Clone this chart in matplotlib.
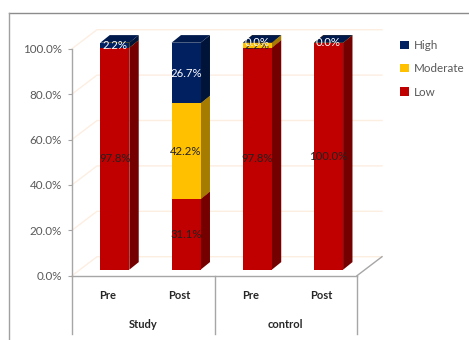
import matplotlib
matplotlib.use('Agg')
import matplotlib.pyplot as plt
from matplotlib.lines import Line2D
from matplotlib.patches import Patch, Polygon
from matplotlib.transforms import Affine2D

plt.rcParams['font.family'] = ['Lato', 'DejaVu Sans']

categories = ['Pre', 'Post', 'Pre', 'Post']
groups = ['Study', 'control']
low = [97.8, 31.1, 97.8, 100.0]
moderate = [0.0, 42.2, 2.2, 0.0]
high = [2.2, 26.7, 0.0, 0.0]
yticks = [0, 20, 40, 60, 80, 100]

W, H = 469, 340
fig = plt.figure(figsize=(W / 100, H / 100), dpi=100)

# plot box in pixels
left, right, top, bottom = 72, 357, 48.7, 275.7
ax = fig.add_axes([left / W, 1 - bottom / H, (right - left) / W, (bottom - top) / H])
ax.set_xlim(-0.5, 3.5)
ax.set_ylim(0, 100)
ax.patch.set_visible(False)

px_x = (right - left) / 4
px_y = (bottom - top) / 100

# depth of the back wall and of the bars, in pixels
wall_dx, wall_dy = 25 / px_x, 19 / px_y
bar_dx, bar_dy = 9.4 / px_x, 7.6 / px_y
shift_x, shift_y = 7.2 / px_x, 6 / px_y
width = 29 / px_x

GRID = '#fdeee2'
AXIS = '#a6a6a6'

# back wall and left wall grid lines
for t in yticks:
    ax.plot([-0.5, -0.5 + wall_dx, 3.5 + wall_dx], [t, t + wall_dy, t + wall_dy],
            color=GRID, lw=1, clip_on=False, zorder=1)
ax.plot([3.5, 3.5 + wall_dx], [0, wall_dy], color=AXIS, lw=1, clip_on=False, zorder=1.5)


def draw_segment(x, y0, h, front, side, topc):
    x0 = x - width / 2 + shift_x
    x1 = x0 + width
    b = y0 + shift_y
    t = b + h
    ax.add_patch(Polygon([(x1, b), (x1 + bar_dx, b + bar_dy), (x1 + bar_dx, t + bar_dy), (x1, t)],
                         fc=side, ec='none', clip_on=False, zorder=3))
    ax.add_patch(Polygon([(x0, t), (x0 + bar_dx, t + bar_dy), (x1 + bar_dx, t + bar_dy), (x1, t)],
                         fc=topc, ec='none', clip_on=False, zorder=3))
    ax.bar(x + shift_x, h, width, bottom=b, color=front, clip_on=False, zorder=4)


series = [
    (low, '#c00000', '#750000', '#8f0000', '#222222'),
    (moderate, '#ffc000', '#a67c00', '#d9a300', '#222222'),
    (high, '#002060', '#001338', '#001a4d', 'white'),
]

for i in range(len(categories)):
    base = 0
    for vals, front, side, topc, _ in series:
        draw_segment(i, base, vals[i], front, side, topc)
        base += vals[i]

# value labels sit at the middle of each front face; empty segments stack at the top
for vals, _, _, _, tc in series:
    base_vals = [0] * len(categories)
    if vals is moderate:
        base_vals = low
    elif vals is high:
        base_vals = [a + b for a, b in zip(low, moderate)]
    for i, v in enumerate(vals):
        if v == 0 and vals is moderate:
            continue
        ax.text(i + shift_x, base_vals[i] + v / 2 + shift_y, f'{v:.1f}%', color=tc,
                ha='center', va='center', fontsize=8.2, clip_on=False, zorder=6)

# axes
for s in ('top', 'right'):
    ax.spines[s].set_visible(False)
for s in ('left', 'bottom'):
    ax.spines[s].set_color(AXIS)
    ax.spines[s].set_linewidth(1)
ax.set_yticks(yticks)
ax.set_yticklabels([f'{t:.1f}%' for t in yticks], color='#595959', fontsize=8.4)
ax.tick_params(axis='y', length=3.2, width=0.8, color=AXIS, pad=4)
ax.set_xticks([])

# multi-level category labels below the floor
trans = ax.get_xaxis_transform()
for x in [-0.5, 1.5, 3.5]:
    ax.plot([x, x], [0, -58.5 / (bottom - top)], transform=trans, color=AXIS, lw=1, clip_on=False)
for i, c in enumerate(categories):
    ax.text(i, -19.5 / (bottom - top), c, transform=trans, ha='center', va='center',
            fontsize=8, fontweight='bold', color='#262626')
for x, g in zip([0.5, 2.5], groups):
    ax.text(x, -48.5 / (bottom - top), g, transform=trans, ha='center', va='center',
            fontsize=8, fontweight='bold', color='#262626')

handles = [Patch(fc='#002060', label='High'), Patch(fc='#ffc000', label='Moderate'),
           Patch(fc='#c00000', label='Low')]
fig.legend(handles=handles, loc='upper left', bbox_to_anchor=(400 / W, 1 - 40 / H), frameon=False,
           fontsize=8.4, labelcolor='#595959', handlelength=0.75, handleheight=0.75,
           handletextpad=0.45, labelspacing=1.05, borderpad=0, borderaxespad=0)

# outer chart frame, cut off at the right and bottom edges
fig.add_artist(Line2D([9 / W, 1], [1 - 12.5 / H, 1 - 12.5 / H], color='#8c8c8c', lw=1))
fig.add_artist(Line2D([9 / W, 9 / W], [0, 1 - 12.5 / H], color='#a0a0a0', lw=1))

fig.savefig('out.png', dpi=100)
